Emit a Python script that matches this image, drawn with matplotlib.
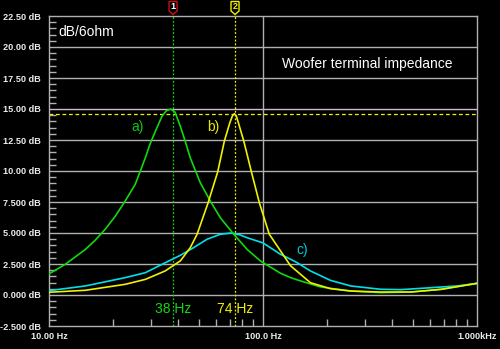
import numpy as np
import matplotlib
matplotlib.use("Agg")
import matplotlib.pyplot as plt
from matplotlib.patches import Polygon
from matplotlib.ticker import FixedLocator, NullFormatter

plt.rcParams['font.family'] = ['Liberation Sans', 'DejaVu Sans']

# Impedance curves, level in dB re 6 ohm
freq_a = [10, 11.9, 14.8, 16.4, 18.3, 20.4, 22.7, 25.3, 28.2, 29.7, 31.4, 33.7,
          35.3, 37.0, 38.8, 41.1, 43.3, 45.7, 50.9, 56.7, 63.2, 73, 84.3, 97.3,
          120.8, 134.6, 150, 185.8, 257, 355, 491, 681, 1000]
db_a = [1.7, 2.47, 3.68, 4.4, 5.3, 6.35, 7.58, 8.93, 11.07, 12.2, 13.2, 14.4,
        14.85, 15.0, 14.75, 13.6, 12.4, 11.07, 9.06, 7.58, 6.23, 4.9, 3.68, 2.74,
        1.75, 1.40, 1.13, 0.65, 0.32, 0.19, 0.24, 0.46, 0.94]

freq_b = [10, 14.8, 22.7, 28.2, 34.9, 41.1, 45.7, 49.2, 55.3, 61.4, 66, 70,
          72, 73.5, 75, 77, 81.3, 88.3, 96.3, 107, 120.8, 134.6, 166.6, 206.7,
          257, 355, 491, 681, 1000]
db_b = [0.22, 0.38, 0.86, 1.26, 1.94, 2.75, 3.81, 4.9, 7.4, 9.92, 12.42, 13.9,
        14.45, 14.62, 14.45, 13.8, 12.42, 9.92, 7.4, 4.9, 3.55, 2.35, 0.99, 0.51,
        0.32, 0.24, 0.24, 0.46, 0.94]

freq_c = [10, 14.8, 22.7, 28.2, 34.9, 41.1, 47.3, 54.7, 63.2, 71, 78, 84.3,
          100, 120.8, 134.6, 144.6, 166.6, 206.7, 257, 355, 440, 610, 810, 1000]
db_c = [0.35, 0.73, 1.4, 1.8, 2.6, 3.2, 3.81, 4.49, 4.9, 5.0, 4.85, 4.62,
        4.2, 3.28, 2.88, 2.6, 1.94, 1.18, 0.73, 0.46, 0.43, 0.59, 0.73, 0.94]

curve_labels = ['a)', 'b)', 'c)']
marker_freqs = [38, 74]
marker_labels = ['38 Hz', '74 Hz']
marker_ids = ['1', '2']

y_ticks = [-2.5, 0, 2.5, 5, 7.5, 10, 12.5, 15, 17.5, 20, 22.5]
y_tick_labels = ['-2.500 dB', '0.000 dB', '2.500 dB', '5.000 dB', '7.500 dB',
                 '10.00 dB', '12.50 dB', '15.00 dB', '17.50 dB', '20.00 dB',
                 '22.50 dB']
x_ticks = [10, 100, 1000]
x_tick_labels = ['10.00 Hz', '100.0 Hz', '1.000kHz']

W, H = 500, 349
fig = plt.figure(figsize=(W / 100, H / 100), dpi=100, facecolor='black')
L, R, T, B = 49, 477, 16, 326
ax = fig.add_axes([L / W, 1 - B / H, (R - L) / W, (B - T) / H], facecolor='black')

GRID = '#b0b0b0'
GREEN = '#10d810'
YELLOW = '#f0f000'
CYAN = '#00e0ec'

ax.set_xscale('log')
ax.set_xlim(10, 1000)
ax.set_ylim(-2.5, 22.5)

for s in ax.spines.values():
    s.set_color(GRID)
    s.set_linewidth(1.0)

# horizontal grid; the 15 dB reference line is tinted
for v in y_ticks[1:-1]:
    col = '#d4b4d8' if v == 15 else GRID
    ax.axhline(v, color=col, lw=1.0, zorder=1)
ax.axvline(100, color=GRID, lw=1.0, zorder=1)

ax.yaxis.set_ticks_position('left')
ax.xaxis.set_ticks_position('bottom')

ax.set_yticks(y_ticks)
ax.set_yticklabels(y_tick_labels)
ax.yaxis.set_minor_locator(FixedLocator(np.arange(-2.5, 22.51, 0.5)))
ax.tick_params(axis='y', which='major', length=0, pad=6, labelsize=6.6,
               labelcolor='#ececec')
ax.tick_params(axis='y', which='minor', direction='in', length=5, width=1,
               color=GRID)
for t in ax.get_yticklabels():
    t.set_fontweight('bold')

ax.set_xticks(x_ticks)
ax.set_xticklabels(x_tick_labels)
minors = [m * d for d in (10, 100) for m in range(2, 10)]
ax.xaxis.set_minor_locator(FixedLocator(minors))
ax.xaxis.set_minor_formatter(NullFormatter())
ax.tick_params(axis='x', which='major', length=0, pad=4, labelsize=6.6,
               labelcolor='#ececec')
ax.tick_params(axis='x', which='minor', direction='in', length=5, width=1,
               color=GRID)
for t in ax.get_xticklabels():
    t.set_fontweight('bold')
ax.tick_params(which='both', top=False, right=False)

# curves
ax.plot(freq_a, db_a, color=GREEN, lw=1.2, zorder=4)
ax.plot(freq_b, db_b, color=YELLOW, lw=1.2, zorder=5)
ax.plot(freq_c, db_c, color=CYAN, lw=1.2, zorder=3)

# marker level line (peak of curve b)
ax.axhline(max(db_b), color=YELLOW, lw=0.9, ls=(0, (3, 2.2)), zorder=2)

marker_cols = [GREEN, YELLOW]
flag_edges = ['#d01010', YELLOW]
flag_text = ['white', YELLOW]
for f, lab, mid, col, ec, tc in zip(marker_freqs, marker_labels, marker_ids,
                                    marker_cols, flag_edges, flag_text):
    ax.axvline(f, color=col, lw=0.9, ls=(0, (1.5, 1.5)), zorder=2)
    ax.text(f, -1.15, lab, color=col, fontsize=10, ha='center', va='center',
            zorder=6)
    # flag above the plot frame
    xp = ax.transData.transform((f, 0))[0]
    top, mid_y, tip = H - 1.5, H - 11, H - 14.5
    hw = 4.0
    poly = Polygon([(xp - hw, top), (xp + hw, top), (xp + hw, mid_y),
                    (xp, tip), (xp - hw, mid_y)], closed=True,
                   transform=None, facecolor='black', edgecolor=ec, lw=1.0,
                   zorder=1, clip_on=False)
    fig.patches.append(poly)
    fig.text(xp / W, (H - 6.8) / H, mid, color=tc, fontsize=6.5,
             fontweight='bold', ha='center', va='center', zorder=20)

# curve tags
ax.text(25.8, 13.55, curve_labels[0], color='#10c810', fontsize=10,
        ha='center', va='center', zorder=6)
ax.text(58.6, 13.55, curve_labels[1], color='#e8e800', fontsize=10,
        ha='center', va='center', zorder=6)
ax.text(151.7, 3.63, curve_labels[2], color='#00c8d4', fontsize=10,
        ha='center', va='center', zorder=6)

fig.text(58 / W, 1 - 36 / H, 'dB/6ohm', color='white', fontsize=10,
         ha='left', va='baseline')
fig.text(367 / W, 1 - 68 / H, 'Woofer terminal impedance', color='white',
         fontsize=10, ha='center', va='baseline')

fig.savefig('out.png', dpi=100, facecolor='black')
